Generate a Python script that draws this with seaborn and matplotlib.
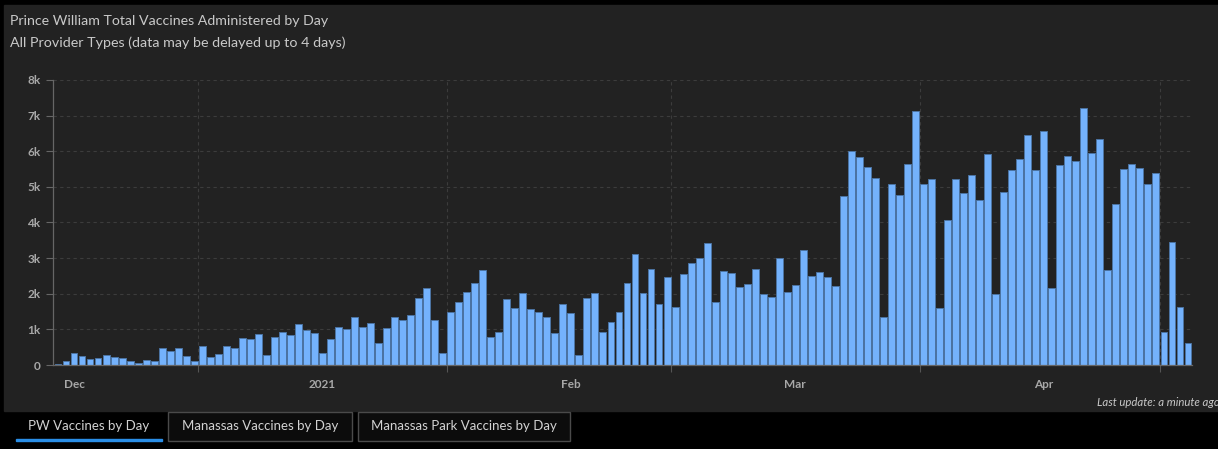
import numpy as np
import pandas as pd
import matplotlib
matplotlib.use("Agg")
import matplotlib.pyplot as plt
from matplotlib.patches import Rectangle
from matplotlib.ticker import FixedLocator, FuncFormatter
import seaborn as sns

# daily vaccines administered, Prince William
start_date = "2020-11-29"
vaccines = [
    30, 100, 330, 250, 160, 190, 270, 220, 190, 100, 50, 140, 110,
    480, 390, 480, 250, 110, 530, 220, 310, 530, 480,
    750, 720, 880, 270, 780, 940, 830, 1140, 980, 890,
    330, 720, 1060, 1000, 1340, 1060, 1170, 610, 1030, 1340, 1260, 1390, 1880, 2150, 1250, 330,
    1480, 1760, 2040, 2290, 2660, 800, 940, 1840, 1590, 2010, 1560, 1480, 1360, 890, 1700, 1450,
    270, 1880, 2010, 920, 1200, 1480,
    2290, 3120, 2010, 2690, 1700, 2470, 1640, 2550, 2870, 3000, 3430, 1760, 2640, 2580, 2190,
    2270, 2690, 1990, 1910, 3000, 2050, 2240, 3230, 2500, 2610, 2470, 2210,
    4730, 6000, 5850, 5570, 5260, 1340, 5070, 4760, 5650, 7120,
    5070, 5210, 1600, 4060, 5210, 4840, 5320, 4620, 5930, 1990, 4870, 5460, 5770, 6450, 5460,
    6560, 2160, 5620, 5880, 5740, 7210, 5960, 6330, 2660, 4530, 5510, 5650, 5540, 5090, 5400,
    940, 3460, 1640, 610,
]
month_labels = ["Dec", "2021", "Feb", "Mar", "Apr"]
month_starts = ["2020-12-01", "2021-01-01", "2021-02-01", "2021-03-01", "2021-04-01"]
grid_dates = ["2020-12-16", "2021-01-16", "2021-02-13", "2021-03-16", "2021-04-15"]
y_ticks = [0, 1000, 2000, 3000, 4000, 5000, 6000, 7000, 8000]
tabs = ["PW Vaccines by Day", "Manassas Vaccines by Day", "Manassas Park Vaccines by Day"]

dates = pd.date_range(start_date, periods=len(vaccines), freq="D")
df = pd.DataFrame({"day": (dates - dates[0]).days, "vaccines": vaccines})

def day_of(d):
    return (pd.Timestamp(d) - dates[0]).days

W, H = 1218, 449
PANEL = "#222222"
TXT = "#c9c9c9"
FONT = ["Lato", "DejaVu Sans"]

sns.set_theme(style="dark")
plt.rcParams["font.family"] = FONT

fig = plt.figure(figsize=(W / 100, H / 100), dpi=100, facecolor="black")

def fx(px):
    return px / W

def fy(py):
    return 1 - py / H

# dashboard panel, behind everything
fig.patches.append(Rectangle((fx(4), fy(411)), fx(W - 4), (411 - 5) / H,
                             transform=fig.transFigure, color=PANEL, zorder=-10))

ax = fig.add_axes([fx(53), fy(365), fx(1192 - 53), (365 - 80) / H])
ax.set_zorder(1)
ax.set_facecolor(PANEL)

sns.barplot(data=df, x="day", y="vaccines", native_scale=True, width=0.86,
            color="#74b2fc", saturation=1, edgecolor="#4c74a3", linewidth=0.7, ax=ax)

ax.set_xlim(-0.62, len(vaccines) - 1 + 0.5)
ax.set_ylim(0, 8000)
ax.set_xlabel("")
ax.set_ylabel("")
ax.set_axisbelow(True)

ax.yaxis.set_major_locator(FixedLocator(y_ticks))
ax.yaxis.set_major_formatter(FuncFormatter(lambda v, p: "0" if v == 0 else "%dk" % (v / 1000)))
ax.yaxis.grid(True, color="#3c3c3c", linestyle=(0, (3, 3)), linewidth=0.8)

grid_pos = [day_of(d) + 0.5 for d in grid_dates]
ax.xaxis.set_major_locator(FixedLocator(grid_pos))
ax.xaxis.set_major_formatter(FuncFormatter(lambda v, p: ""))
ax.xaxis.set_minor_locator(FixedLocator([day_of(d) for d in month_starts]))
ax.xaxis.set_minor_formatter(FuncFormatter(lambda v, p: month_labels[p] if p < len(month_labels) else ""))
ax.xaxis.grid(True, which="major", color="#3c3c3c", linestyle=(0, (3, 3)), linewidth=0.8)

ax.tick_params(axis="y", which="major", length=5, width=0.8, color="#666666",
               labelcolor="#a8a8a8", labelsize=8.5, pad=4, left=True)
ax.tick_params(axis="x", which="major", length=5, width=0.8, color="#555555", bottom=True)
ax.tick_params(axis="x", which="minor", length=0, labelcolor="#a8a8a8", labelsize=8.5, pad=10)
for lab in ax.get_yticklabels() + ax.get_xticklabels(minor=True):
    lab.set_fontweight("bold")

for side in ["top", "right"]:
    ax.spines[side].set_visible(False)
for side in ["left", "bottom"]:
    ax.spines[side].set_visible(True)
    ax.spines[side].set_color("#666666")
    ax.spines[side].set_linewidth(0.9)

# titles
fig.text(fx(10), fy(21), "Prince William Total Vaccines Administered by Day",
         color=TXT, fontsize=10.2, va="center", ha="left")
fig.text(fx(10), fy(43), "All Provider Types (data may be delayed up to 4 days)",
         color=TXT, fontsize=10.3, va="center", ha="left")
fig.text(fx(1097), fy(403), "Last update: a minute ago", color=TXT, fontsize=8.2,
         style="italic", va="center", ha="left")

# tab strip
tab_boxes = [(16, 162), (168, 352), (358, 570)]
for i, (name, (x0, x1)) in enumerate(zip(tabs, tab_boxes)):
    if i == 0:
        fig.patches.append(Rectangle((fx(x0), fy(441)), fx(x1 - x0), 2.5 / H,
                                     transform=fig.transFigure, color="#2a8ee6", zorder=2))
    else:
        fig.patches.append(Rectangle((fx(x0), fy(441)), fx(x1 - x0), (441 - 412) / H,
                                     transform=fig.transFigure, facecolor="#0c0c0c",
                                     edgecolor="#4a4a4a", linewidth=1, zorder=1))
    fig.text(fx((x0 + x1) / 2), fy(426), name, color="#d2d2d2", fontsize=9.5,
             ha="center", va="center")

fig.savefig("out.png", dpi=100, facecolor="black")
